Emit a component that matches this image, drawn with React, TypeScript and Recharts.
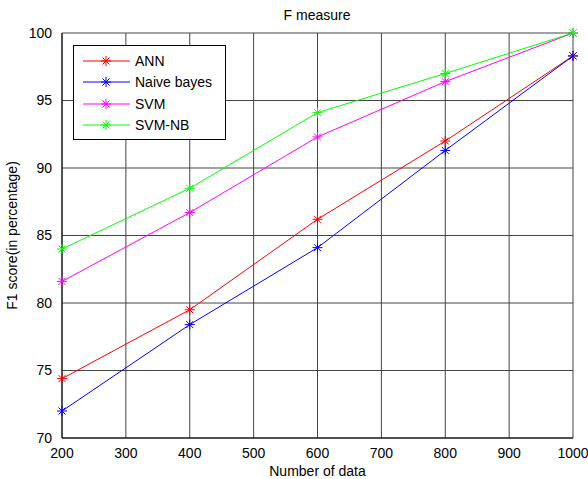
import { CartesianGrid, Line, LineChart, XAxis, YAxis } from "recharts"

const dataSizes = [200, 400, 600, 800, 1000]
const annScores = [74.4, 79.5, 86.2, 92.0, 98.3]
const naiveBayesScores = [72.0, 78.4, 84.1, 91.3, 98.3]
const svmScores = [81.6, 86.7, 92.3, 96.4, 100]
const svmNbScores = [84.0, 88.5, 94.1, 97.0, 100]

const xTicks = [200, 300, 400, 500, 600, 700, 800, 900, 1000]
const yTicks = [70, 75, 80, 85, 90, 95, 100]

const series = [
  { key: "ann", name: "ANN", color: "#ff0000", values: annScores },
  { key: "nb", name: "Naive bayes", color: "#0000ff", values: naiveBayesScores },
  { key: "svm", name: "SVM", color: "#ff00ff", values: svmScores },
  { key: "svmnb", name: "SVM-NB", color: "#00ff00", values: svmNbScores },
]

const data = dataSizes.map((n, i) => {
  const row: any = { n }
  series.forEach((s) => (row[s.key] = s.values[i]))
  return row
})

const font = "'Liberation Sans', Arial, sans-serif"

function Star(props: any) {
  const { cx, cy, stroke } = props
  if (cx == null || cy == null) return null
  const r = 5
  const d = r * 0.7
  return (
    <g stroke={stroke} strokeWidth={1}>
      <line x1={cx - r} y1={cy} x2={cx + r} y2={cy} />
      <line x1={cx} y1={cy - r} x2={cx} y2={cy + r} />
      <line x1={cx - d} y1={cy - d} x2={cx + d} y2={cy + d} />
      <line x1={cx - d} y1={cy + d} x2={cx + d} y2={cy - d} />
    </g>
  )
}

function LegendBox() {
  return (
    <div
      style={{
        position: "absolute",
        left: 73,
        top: 45,
        width: 153,
        height: 95,
        border: "1px solid #000",
        background: "#fff",
        boxSizing: "border-box",
        paddingTop: 4,
        fontFamily: font,
        fontSize: 14,
      }}
    >
      {series.map((s) => (
        <div key={s.key} style={{ display: "flex", alignItems: "center", height: 21.5 }}>
          <svg width={52} height={12} style={{ marginLeft: 9 }}>
            <line x1={0} y1={6} x2={47} y2={6} stroke={s.color} strokeWidth={1} />
            <Star cx={23} cy={6} stroke={s.color} />
          </svg>
          <span>{s.name}</span>
        </div>
      ))}
    </div>
  )
}

export default function App() {
  return (
    <div style={{ position: "absolute", left: 0, top: 0, width: 588, height: 479, background: "#fff" }}>
      <LineChart width={588} height={479} data={data} margin={{ top: 33, right: 15, left: 0, bottom: 0 }}>
        <text x={317} y={20} textAnchor="middle" fontFamily={font} fontSize={14} fill="#000">
          F measure
        </text>
        <CartesianGrid stroke="#444" strokeWidth={1} />
        <XAxis
          dataKey="n"
          type="number"
          domain={[200, 1000]}
          ticks={xTicks}
          height={41}
          tickLine={false}
          axisLine={{ stroke: "#000" }}
          tick={{ fill: "#000", fontSize: 14, fontFamily: font }}
          tickMargin={4}
          label={{ value: "Number of data", position: "insideBottom", offset: 3, fill: "#000", fontSize: 14, fontFamily: font }}
        />
        <XAxis xAxisId="top" dataKey="n" type="number" domain={[200, 1000]} orientation="top" height={0} tick={false} tickLine={false} axisLine={{ stroke: "#000" }} />
        <YAxis
          type="number"
          domain={[70, 100]}
          ticks={yTicks}
          width={62}
          tickLine={false}
          axisLine={{ stroke: "#000" }}
          tick={{ fill: "#000", fontSize: 14, fontFamily: font }}
          tickMargin={4}
          label={{ value: "F1 score(in percentage)", angle: -90, position: "insideLeft", offset: 12, style: { textAnchor: "middle" }, fill: "#000", fontSize: 14, fontFamily: font }}
        />
        <YAxis yAxisId="right" type="number" domain={[70, 100]} orientation="right" width={0} tick={false} tickLine={false} axisLine={{ stroke: "#000" }} />
        {series.map((s) => (
          <Line
            key={s.key}
            dataKey={s.key}
            name={s.name}
            stroke={s.color}
            strokeWidth={1}
            type="linear"
            dot={<Star />}
            activeDot={false}
            isAnimationActive={false}
          />
        ))}
      </LineChart>
      <LegendBox />
    </div>
  )
}
